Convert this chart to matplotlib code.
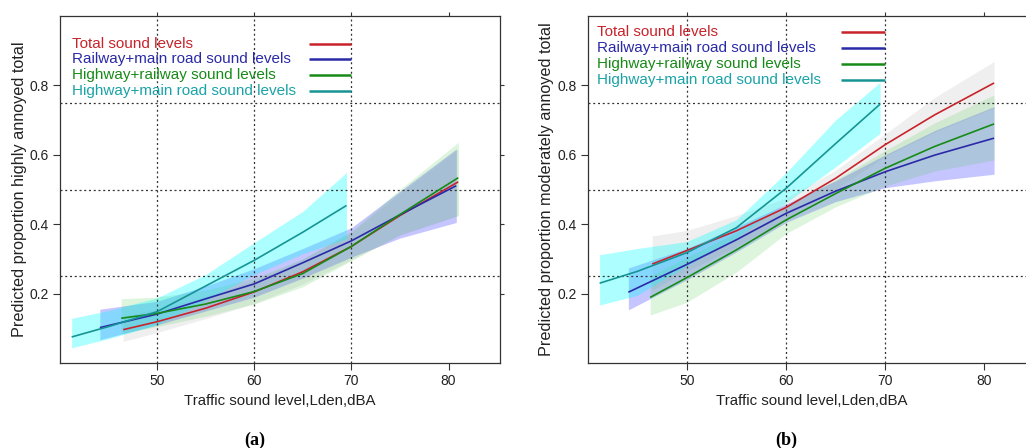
import matplotlib
matplotlib.use("Agg")
import matplotlib.pyplot as plt

plt.rcParams['font.family'] = ['Liberation Sans', 'DejaVu Sans']

# ---------------- Panel (a): highly annoyed ----------------
a_total_x = [46.5, 50, 55, 60, 65, 70, 75, 81]
a_total_y = [0.096, 0.119, 0.158, 0.205, 0.263, 0.336, 0.425, 0.522]
a_total_lo = [0.062, 0.088, 0.128, 0.172, 0.228, 0.298, 0.368, 0.424]
a_total_hi = [0.135, 0.155, 0.192, 0.238, 0.300, 0.376, 0.490, 0.617]

a_railmain_x = [44.1, 50, 55, 60, 65, 70, 75, 80.8]
a_railmain_y = [0.102, 0.141, 0.185, 0.228, 0.289, 0.352, 0.427, 0.511]
a_railmain_lo = [0.067, 0.110, 0.150, 0.190, 0.245, 0.305, 0.360, 0.405]
a_railmain_hi = [0.155, 0.178, 0.222, 0.272, 0.330, 0.390, 0.495, 0.617]

a_hwyrail_x = [46.3, 50, 55, 60, 65, 70, 75, 81]
a_hwyrail_y = [0.129, 0.143, 0.170, 0.206, 0.258, 0.336, 0.428, 0.534]
a_hwyrail_lo = [0.085, 0.105, 0.135, 0.170, 0.220, 0.295, 0.370, 0.425]
a_hwyrail_hi = [0.185, 0.190, 0.210, 0.245, 0.300, 0.380, 0.500, 0.636]

a_hwymain_x = [41.2, 45, 50, 55, 60, 65, 69.5]
a_hwymain_y = [0.075, 0.105, 0.148, 0.222, 0.296, 0.377, 0.454]
a_hwymain_lo = [0.044, 0.070, 0.110, 0.180, 0.255, 0.315, 0.358]
a_hwymain_hi = [0.129, 0.151, 0.188, 0.255, 0.347, 0.437, 0.549]

# ---------------- Panel (b): moderately annoyed ----------------
b_total_x = [46.5, 50, 55, 60, 65, 70, 75, 81]
b_total_y = [0.285, 0.324, 0.381, 0.448, 0.532, 0.629, 0.715, 0.807]
b_total_lo = [0.210, 0.265, 0.335, 0.415, 0.500, 0.595, 0.665, 0.735]
b_total_hi = [0.366, 0.382, 0.425, 0.475, 0.555, 0.660, 0.765, 0.869]

b_railmain_x = [44.1, 50, 55, 60, 65, 70, 75, 81]
b_railmain_y = [0.204, 0.284, 0.355, 0.431, 0.495, 0.551, 0.599, 0.648]
b_railmain_lo = [0.153, 0.240, 0.320, 0.405, 0.465, 0.505, 0.525, 0.544]
b_railmain_hi = [0.274, 0.330, 0.392, 0.458, 0.525, 0.600, 0.670, 0.739]

b_hwyrail_x = [46.3, 50, 55, 60, 65, 70, 75, 81]
b_hwyrail_y = [0.189, 0.246, 0.326, 0.412, 0.488, 0.561, 0.624, 0.689]
b_hwyrail_lo = [0.138, 0.175, 0.262, 0.373, 0.450, 0.510, 0.553, 0.585]
b_hwyrail_hi = [0.250, 0.305, 0.375, 0.452, 0.528, 0.612, 0.692, 0.773]

b_hwymain_x = [41.2, 45, 50, 55, 60, 65, 69.5]
b_hwymain_y = [0.230, 0.264, 0.318, 0.390, 0.503, 0.632, 0.746]
b_hwymain_lo = [0.167, 0.195, 0.280, 0.360, 0.462, 0.565, 0.662]
b_hwymain_hi = [0.312, 0.330, 0.350, 0.413, 0.548, 0.700, 0.809]

series_names = ["Total sound levels",
                "Railway+main road sound levels",
                "Highway+railway sound levels",
                "Highway+main road sound levels"]
line_colors = ["#c8232b", "#2a2aa8", "#178a17", "#169494"]
text_colors = ["#c8232b", "#2a2aa8", "#178a17", "#1aa3a8"]
band_colors = ["#b0b0b0", "#7070ff", "#55cc55", "#00ffff"]
band_alphas = [0.20, 0.40, 0.20, 0.32]

x_ticks = [50, 60, 70, 80]
y_ticks = [0.2, 0.4, 0.6, 0.8]
y_tick_labels = ["0.2", "0.4", "0.6", "0.8"]
ref_x = [50, 60, 70]
ref_y = [0.25, 0.5, 0.75]

fig = plt.figure(figsize=(10.26, 4.48), dpi=100)
W, H = 1026.0, 448.0
ax_a = fig.add_axes([60 / W, 85 / H, 440 / W, 347 / H])
ax_b = fig.add_axes([587.7 / W, 85 / H, 449 / W, 347 / H])


def draw_panel(ax, series, ylabel, legend_rows, legend_text_x):
    ax.set_xlim(40, 85.3)
    ax.set_ylim(0, 1.0)
    # confidence bands
    for (x, y, lo, hi), bc, ba in zip(series, band_colors, band_alphas):
        ax.fill_between(x, lo, hi, color=bc, alpha=ba, linewidth=0, zorder=1)
    # dotted reference grid
    for v in ref_x:
        ax.axvline(v, color="#333333", lw=0.9, ls=(0, (1.6, 2.2)), zorder=1.5)
    for h in ref_y:
        ax.axhline(h, color="#333333", lw=0.9, ls=(0, (1.6, 2.2)), zorder=1.5)
    # fitted curves
    for (x, y, lo, hi), lc in zip(series, line_colors):
        ax.plot(x, y, color=lc, lw=1.2, zorder=3, solid_capstyle="butt")
    # key
    for name, tc, lc, ry in zip(series_names, text_colors, line_colors, legend_rows):
        ax.text(legend_text_x, ry, name, color=tc, fontsize=11,
                va="center", ha="left", zorder=4)
        ax.plot([65.6, 70.0], [ry, ry], color=lc, lw=1.8, zorder=4,
                solid_capstyle="butt")

    ax.set_xticks(x_ticks)
    ax.set_yticks(y_ticks)
    ax.set_yticklabels(y_tick_labels)
    ax.tick_params(direction="out", length=5, width=0.8, colors="#333333",
                   labelsize=10, pad=3, top=True, right=True)
    ax.tick_params(axis="x", labelcolor="#222222")
    ax.tick_params(axis="y", labelcolor="#222222")
    for t in ax.xaxis.get_major_ticks():
        t.tick2line.set_markersize(3)
    for t in ax.yaxis.get_major_ticks():
        t.tick2line.set_markersize(3)
    for sp in ax.spines.values():
        sp.set_color("#333333")
        sp.set_linewidth(0.9)
    ax.set_xlabel("Traffic sound level,Lden,dBA", fontsize=10.8, color="#222222",
                  labelpad=4)
    ax.set_ylabel(ylabel, fontsize=11.7, color="#222222", labelpad=2)


series_a = [(a_total_x, a_total_y, a_total_lo, a_total_hi),
            (a_railmain_x, a_railmain_y, a_railmain_lo, a_railmain_hi),
            (a_hwyrail_x, a_hwyrail_y, a_hwyrail_lo, a_hwyrail_hi),
            (a_hwymain_x, a_hwymain_y, a_hwymain_lo, a_hwymain_hi)]
series_b = [(b_total_x, b_total_y, b_total_lo, b_total_hi),
            (b_railmain_x, b_railmain_y, b_railmain_lo, b_railmain_hi),
            (b_hwyrail_x, b_hwyrail_y, b_hwyrail_lo, b_hwyrail_hi),
            (b_hwymain_x, b_hwymain_y, b_hwymain_lo, b_hwymain_hi)]

draw_panel(ax_a, series_a, "Predicted proportion highly annoyed total",
           [0.920, 0.875, 0.829, 0.784], 41.2)
draw_panel(ax_b, series_b, "Predicted proportion moderately annoyed total",
           [0.953, 0.907, 0.862, 0.816], 40.9)

fig.text(255 / W, 1 - 440 / H, "(a)", ha="center", va="center", fontsize=13,
         family=["Liberation Serif", "DejaVu Serif"], fontweight="bold")
fig.text(786 / W, 1 - 440 / H, "(b)", ha="center", va="center", fontsize=13,
         family=["Liberation Serif", "DejaVu Serif"], fontweight="bold")

fig.savefig("out.png", dpi=100, facecolor="white")
